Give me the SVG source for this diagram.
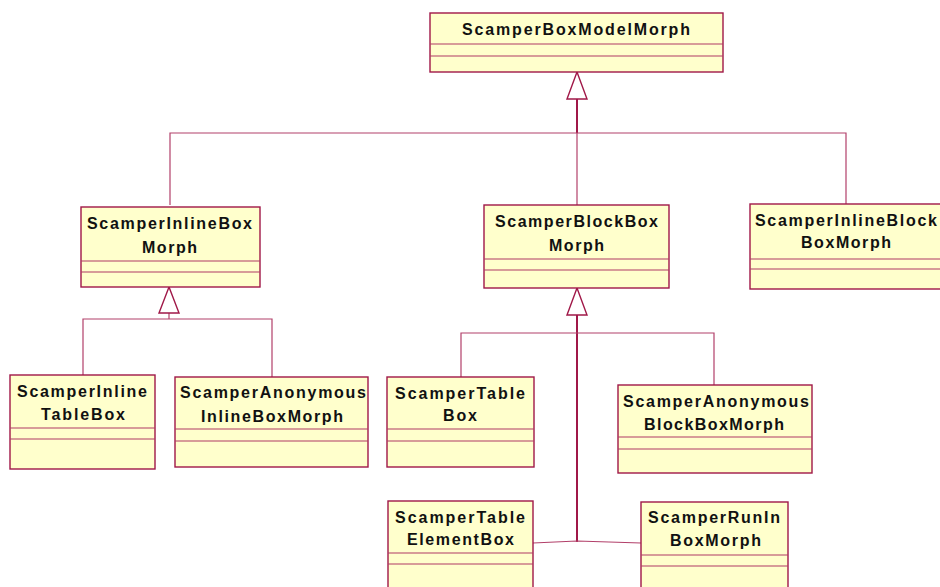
<svg xmlns="http://www.w3.org/2000/svg" width="940" height="587" viewBox="0 0 940 587">
  <style>
    .box { fill: #ffffcc; stroke: #a01848; stroke-width: 1.4; }
    .div { stroke: #b03a64; stroke-width: 1.2; fill: none; }
    .lbl { font-family: "Liberation Sans", Arial, sans-serif; font-weight: bold; font-size: 16px; fill: #111; text-anchor: middle; }
    .ln { stroke: #b2406a; stroke-width: 1.2; fill: none; }
    .trunk { stroke: #a01848; stroke-width: 2; fill: none; }
    .tri { fill: #ffffff; stroke: #a01848; stroke-width: 1.4; }
  </style>
  <rect width="940" height="587" fill="#ffffff"/>

  <!-- generalization connectors -->
  <g id="connectors">
    <!-- root hierarchy -->
    <line class="trunk" x1="577" y1="99" x2="577" y2="133"/>
    <polyline class="ln" points="170,205 170,133 846,133 846,204"/>
    <line class="ln" x1="577" y1="133" x2="577" y2="205"/>
    <polygon class="tri" points="577,72 567,99 587,99"/>

    <!-- inline box hierarchy -->
    <line class="ln" x1="169" y1="313" x2="169" y2="319"/>
    <polyline class="ln" points="83,375 83,319 272,319 272,377"/>
    <polygon class="tri" points="169,287 159,313 179,313"/>

    <!-- block box hierarchy -->
    <line class="trunk" x1="577" y1="315" x2="577" y2="542"/>
    <polyline class="ln" points="461,377 461,333 714,333 714,385"/>
    <polyline class="ln" points="533,543 577,541 641,543"/>
    <polygon class="tri" points="577,288 567,315 587,315"/>
  </g>

  <g id="ScamperBoxModelMorph">
    <rect class="box" x="430" y="13" width="293" height="59"/>
    <line class="div" x1="430" y1="44" x2="723" y2="44"/>
    <line class="div" x1="430" y1="56" x2="723" y2="56"/>
    <text class="lbl" x="576" y="35" textLength="228" lengthAdjust="spacing">ScamperBoxModelMorph</text>
  </g>

  <g id="ScamperInlineBoxMorph">
    <rect class="box" x="81" y="207" width="179" height="80"/>
    <line class="div" x1="81" y1="261" x2="260" y2="261"/>
    <line class="div" x1="81" y1="272" x2="260" y2="272"/>
    <text class="lbl" x="169.5" y="229" textLength="165" lengthAdjust="spacing">ScamperInlineBox</text>
    <text class="lbl" x="169.5" y="253" textLength="55" lengthAdjust="spacing">Morph</text>
  </g>

  <g id="ScamperBlockBoxMorph">
    <rect class="box" x="484" y="205" width="185" height="83"/>
    <line class="div" x1="484" y1="259" x2="669" y2="259"/>
    <line class="div" x1="484" y1="270" x2="669" y2="270"/>
    <text class="lbl" x="576.5" y="227" textLength="163" lengthAdjust="spacing">ScamperBlockBox</text>
    <text class="lbl" x="576.5" y="251" textLength="55" lengthAdjust="spacing">Morph</text>
  </g>

  <g id="ScamperInlineBlockBoxMorph">
    <rect class="box" x="750" y="204" width="200" height="85"/>
    <line class="div" x1="750" y1="259" x2="950" y2="259"/>
    <line class="div" x1="750" y1="269" x2="950" y2="269"/>
    <text class="lbl" x="846" y="226" textLength="182" lengthAdjust="spacing">ScamperInlineBlock</text>
    <text class="lbl" x="846" y="248" textLength="90" lengthAdjust="spacing">BoxMorph</text>
  </g>

  <g id="ScamperInlineTableBox">
    <rect class="box" x="10" y="375" width="145" height="94"/>
    <line class="div" x1="10" y1="428" x2="155" y2="428"/>
    <line class="div" x1="10" y1="439" x2="155" y2="439"/>
    <text class="lbl" x="82" y="397" textLength="130" lengthAdjust="spacing">ScamperInline</text>
    <text class="lbl" x="83" y="420" textLength="84" lengthAdjust="spacing">TableBox</text>
  </g>

  <g id="ScamperAnonymousInlineBoxMorph">
    <rect class="box" x="175" y="377" width="193" height="90"/>
    <line class="div" x1="175" y1="429" x2="368" y2="429"/>
    <line class="div" x1="175" y1="441" x2="368" y2="441"/>
    <text class="lbl" x="273" y="398" textLength="186" lengthAdjust="spacing">ScamperAnonymous</text>
    <text class="lbl" x="272" y="422" textLength="142" lengthAdjust="spacing">InlineBoxMorph</text>
  </g>

  <g id="ScamperTableBox">
    <rect class="box" x="387" y="377" width="147" height="90"/>
    <line class="div" x1="387" y1="429" x2="534" y2="429"/>
    <line class="div" x1="387" y1="441" x2="534" y2="441"/>
    <text class="lbl" x="460" y="399" textLength="130" lengthAdjust="spacing">ScamperTable</text>
    <text class="lbl" x="460" y="421" textLength="34" lengthAdjust="spacing">Box</text>
  </g>

  <g id="ScamperAnonymousBlockBoxMorph">
    <rect class="box" x="618" y="385" width="194" height="88"/>
    <line class="div" x1="618" y1="437" x2="812" y2="437"/>
    <line class="div" x1="618" y1="449" x2="812" y2="449"/>
    <text class="lbl" x="716" y="407" textLength="186" lengthAdjust="spacing">ScamperAnonymous</text>
    <text class="lbl" x="714" y="430" textLength="140" lengthAdjust="spacing">BlockBoxMorph</text>
  </g>

  <g id="ScamperTableElementBox">
    <rect class="box" x="388" y="501" width="145" height="100"/>
    <line class="div" x1="388" y1="553" x2="533" y2="553"/>
    <line class="div" x1="388" y1="564" x2="533" y2="564"/>
    <text class="lbl" x="460" y="523" textLength="130" lengthAdjust="spacing">ScamperTable</text>
    <text class="lbl" x="460.5" y="545" textLength="107" lengthAdjust="spacing">ElementBox</text>
  </g>

  <g id="ScamperRunInBoxMorph">
    <rect class="box" x="641" y="502" width="147" height="100"/>
    <line class="div" x1="641" y1="555" x2="788" y2="555"/>
    <line class="div" x1="641" y1="566" x2="788" y2="566"/>
    <text class="lbl" x="714" y="523" textLength="132" lengthAdjust="spacing">ScamperRunIn</text>
    <text class="lbl" x="715.5" y="546" textLength="91" lengthAdjust="spacing">BoxMorph</text>
  </g>
</svg>
